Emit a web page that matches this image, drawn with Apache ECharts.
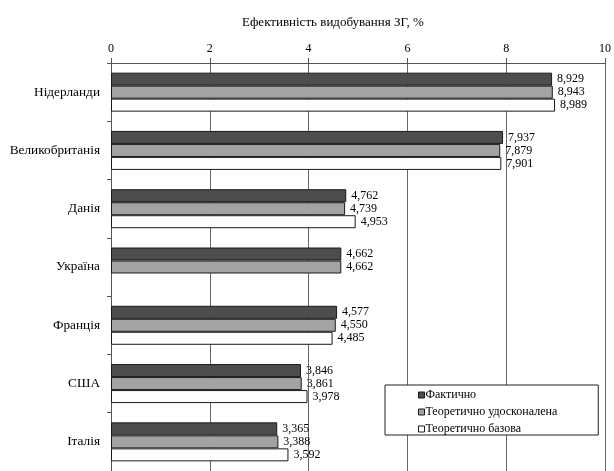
<!DOCTYPE html>
<html>
<head>
<meta charset="utf-8">
<script src="https://cdn.jsdelivr.net/npm/echarts@6/dist/echarts.min.js"></script>
<style>
  html, body { margin: 0; padding: 0; background: #fff; }
  #chart { width: 614px; height: 471px; }
</style>
</head>
<body>
<div id="chart"></div>
<script>
// Gas extraction efficiency by country, %
const countries = ['Нідерланди', 'Великобританія', 'Данія', 'Україна', 'Франція', 'США', 'Італія'];
const actual = [8.929, 7.937, 4.762, 4.662, 4.577, 3.846, 3.365];
const improved = [8.943, 7.879, 4.739, 4.662, 4.550, 3.861, 3.388];
const baseline = [8.989, 7.901, 4.953, null, 4.485, 3.978, 3.592];
const seriesNames = ['Фактично', 'Теоретично удосконалена', 'Теоретично базова'];
const axisTicks = [0, 2, 4, 6, 8, 10];

const FONT = '"Liberation Serif", "Times New Roman", serif';
const fills = ['#4d4d4d', '#a3a3a3', '#fdfdfd'];

const fmt = v => v.toFixed(3).replace('.', ',');

function barSeries(name, data, color) {
  return {
    name: name,
    type: 'bar',
    data: data.map(v => (v == null ? '-' : v)),
    barWidth: 13,
    barGap: '0%',
    itemStyle: { color: color, borderColor: '#1a1a1a', borderWidth: 1 },
    label: {
      show: true,
      position: 'right',
      distance: 5,
      color: '#000',
      fontFamily: FONT,
      fontSize: 12,
      formatter: p => fmt(p.value)
    },
    emphasis: { disabled: true }
  };
}

const chart = echarts.init(document.getElementById('chart'), null, { renderer: 'canvas' });
chart.setOption({
  animation: false,
  backgroundColor: '#fff',
  title: {
    text: 'Ефективність видобування ЗГ, %',
    left: 237,
    top: 11,
    textStyle: { fontFamily: FONT, fontSize: 13, fontWeight: 'normal', color: '#000' }
  },
  legend: {
    orient: 'vertical',
    left: 385,
    top: 385,
    padding: [4, 41, 0, 33],
    itemWidth: 6,
    itemHeight: 6,
    itemGap: 5,
    backgroundColor: '#fff',
    borderColor: '#222',
    borderWidth: 1,
    borderRadius: 0,
    icon: 'rect',
    itemStyle: { borderColor: '#1a1a1a', borderWidth: 1 },
    textStyle: { fontFamily: FONT, fontSize: 12, color: '#000', lineHeight: 12, padding: [0, 0, 0, -4] },
    data: seriesNames
  },
  grid: { left: 111, right: 5, top: 63, height: 410 },
  xAxis: {
    type: 'value',
    position: 'top',
    min: axisTicks[0],
    max: axisTicks[axisTicks.length - 1],
    interval: axisTicks[1] - axisTicks[0],
    axisLine: { show: true, lineStyle: { color: '#555', width: 1 } },
    axisTick: { show: true, length: 5, lineStyle: { color: '#555' } },
    axisLabel: { margin: 8, fontFamily: FONT, fontSize: 12, color: '#000' },
    splitLine: { show: true, lineStyle: { color: '#666', width: 1 } }
  },
  yAxis: {
    type: 'category',
    inverse: true,
    data: countries,
    axisLine: { show: true, lineStyle: { color: '#555', width: 1 } },
    axisTick: { show: true, length: 4, lineStyle: { color: '#555' } },
    axisLabel: { margin: 11, fontFamily: FONT, fontSize: 13.3, color: '#000' }
  },
  series: [
    barSeries(seriesNames[0], actual, fills[0]),
    barSeries(seriesNames[1], improved, fills[1]),
    barSeries(seriesNames[2], baseline, fills[2])
  ]
});
</script>
</body>
</html>
